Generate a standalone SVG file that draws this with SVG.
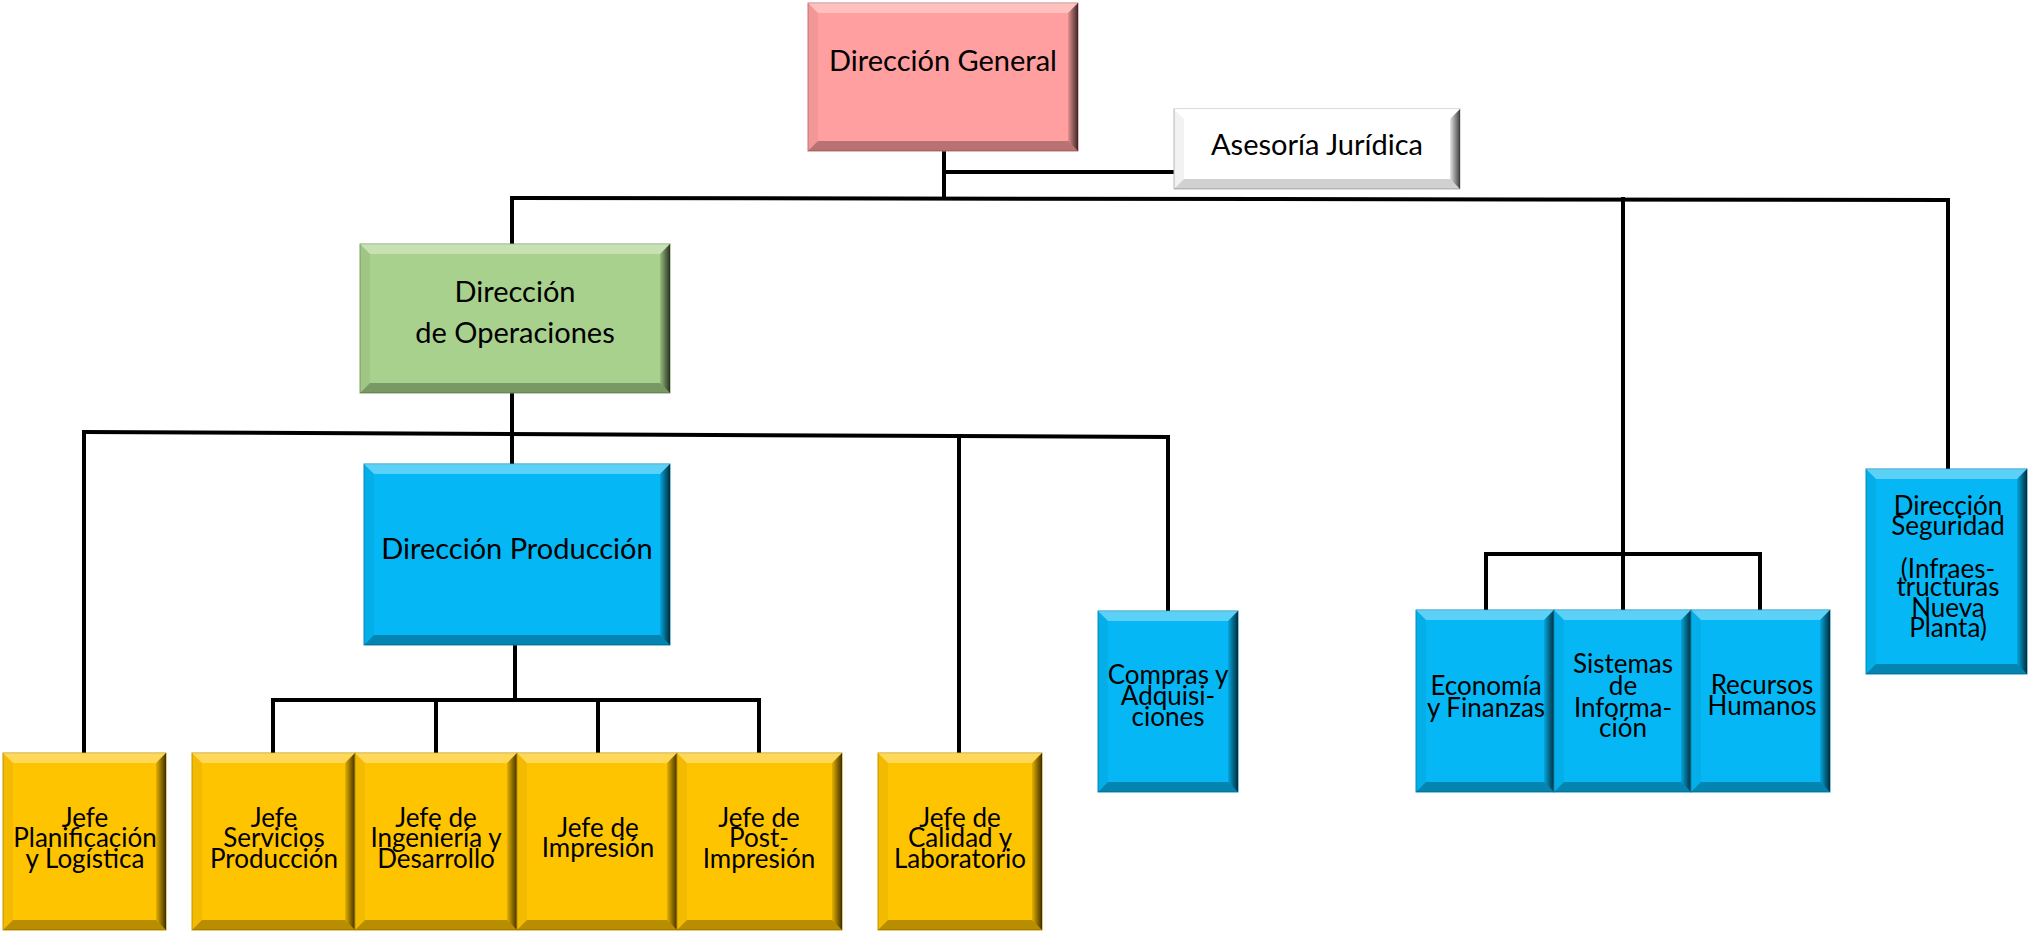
<svg xmlns="http://www.w3.org/2000/svg" width="2029" height="932" viewBox="0 0 2029 932">
<style>
.pink{fill:#FF9F9F;stroke:#C97878;stroke-width:1}
.white{fill:#FFFFFF;stroke:#BBBBBB;stroke-width:1}
.green{fill:#A9D18E;stroke:#7FA466;stroke-width:1}
.blue{fill:#05B8F5;stroke:#0A8DBD;stroke-width:1}
.yellow{fill:#FFC400;stroke:#C99A00;stroke-width:1}
.bt{fill:#FFFFFF;fill-opacity:0.35}
.bl{fill:#000000;fill-opacity:0.05}
.bb{fill:#000000;fill-opacity:0.28}
.br{fill:url(#gr)}
.wb .bt{fill-opacity:0.9}
.wb .bb{fill-opacity:0.18}
.t{font-family:Lato,"Open Sans",sans-serif;fill:#000;text-anchor:middle}
.big{font-size:29px}
.sm{font-size:26px}
.ln{stroke:#000;stroke-width:4;fill:none;stroke-linecap:square}
</style>
<defs>
<linearGradient id="gr" x1="0" y1="0" x2="1" y2="0">
<stop offset="0" stop-color="#000" stop-opacity="0.1"/>
<stop offset="1" stop-color="#000" stop-opacity="0.75"/>
</linearGradient>
</defs>
<rect width="2029" height="932" fill="#FFFFFF"/>

<g id="connectors">
<path class="ln" d="M944 151 V198"/>
<path class="ln" d="M944 172 H1174"/>
<path class="ln" d="M512 198 L1948 200"/>
<path class="ln" d="M512 198 V244"/>
<path class="ln" d="M1623 199 V610"/>
<path class="ln" d="M1948 200 V469"/>
<path class="ln" d="M512 393 V464"/>
<path class="ln" d="M84 432 L1168 437"/>
<path class="ln" d="M84 432 V753"/>
<path class="ln" d="M959 436 V753"/>
<path class="ln" d="M1168 437 V611"/>
<path class="ln" d="M515 645 V700"/>
<path class="ln" d="M273 700 H759"/>
<path class="ln" d="M273 700 V753"/>
<path class="ln" d="M436 700 V753"/>
<path class="ln" d="M598 700 V753"/>
<path class="ln" d="M759 700 V753"/>
<path class="ln" d="M1486 554 H1760"/>
<path class="ln" d="M1486 554 V610"/>
<path class="ln" d="M1760 554 V610"/>
</g>

<g id="n-direccion-general">
<rect class="pink" x="808" y="3" width="270" height="148"/>
<polygon class="bt" points="808,3 1078,3 1068,13 818,13"/>
<polygon class="bl" points="808,3 818,13 818,141 808,151"/>
<polygon class="bb" points="808,151 818,141 1068,141 1078,151"/>
<polygon class="br" points="1078,3 1078,151 1068,141 1068,13"/>
<text class="t big" x="943" y="71">Dirección General</text>
</g>

<g id="n-asesoria" class="wb">
<rect class="white" x="1174" y="109" width="286" height="80"/>
<polygon class="bt" points="1174,109 1460,109 1450,119 1184,119"/>
<polygon class="bl" points="1174,109 1184,119 1184,179 1174,189"/>
<polygon class="bb" points="1174,189 1184,179 1450,179 1460,189"/>
<polygon class="br" points="1460,109 1460,189 1450,179 1450,119"/>
<text class="t big" x="1317" y="155">Asesoría Jurídica</text>
</g>

<g id="n-operaciones">
<rect class="green" x="360" y="244" width="310" height="149"/>
<polygon class="bt" points="360,244 670,244 660,254 370,254"/>
<polygon class="bl" points="360,244 370,254 370,383 360,393"/>
<polygon class="bb" points="360,393 370,383 660,383 670,393"/>
<polygon class="br" points="670,244 670,393 660,383 660,254"/>
<text class="t big" x="515"><tspan x="515" y="302">Dirección</tspan><tspan x="515" y="343">de Operaciones</tspan></text>
</g>

<g id="n-produccion">
<rect class="blue" x="364" y="464" width="306" height="181"/>
<polygon class="bt" points="364,464 670,464 660,474 374,474"/>
<polygon class="bl" points="364,464 374,474 374,635 364,645"/>
<polygon class="bb" points="364,645 374,635 660,635 670,645"/>
<polygon class="br" points="670,464 670,645 660,635 660,474"/>
<text class="t big" x="517" y="559">Dirección Producción</text>
</g>

<g id="n-planificacion">
<rect class="yellow" x="3" y="753" width="163" height="177"/>
<polygon class="bt" points="3,753 166,753 156,763 13,763"/>
<polygon class="bl" points="3,753 13,763 13,920 3,930"/>
<polygon class="bb" points="3,930 13,920 156,920 166,930"/>
<polygon class="br" points="166,753 166,930 156,920 156,763"/>
<text class="t sm"><tspan x="85" y="827">Jefe</tspan><tspan x="85" y="847">Planificación</tspan><tspan x="85" y="868">y Logística</tspan></text>
</g>

<g id="n-servicios">
<rect class="yellow" x="192" y="753" width="163" height="177"/>
<polygon class="bt" points="192,753 355,753 345,763 202,763"/>
<polygon class="bl" points="192,753 202,763 202,920 192,930"/>
<polygon class="bb" points="192,930 202,920 345,920 355,930"/>
<polygon class="br" points="355,753 355,930 345,920 345,763"/>
<text class="t sm"><tspan x="274" y="827">Jefe</tspan><tspan x="274" y="847">Servicios</tspan><tspan x="274" y="868">Producción</tspan></text>
</g>

<g id="n-ingenieria">
<rect class="yellow" x="355" y="753" width="162" height="177"/>
<polygon class="bt" points="355,753 517,753 507,763 365,763"/>
<polygon class="bl" points="355,753 365,763 365,920 355,930"/>
<polygon class="bb" points="355,930 365,920 507,920 517,930"/>
<polygon class="br" points="517,753 517,930 507,920 507,763"/>
<text class="t sm"><tspan x="436" y="827">Jefe de</tspan><tspan x="436" y="847">Ingeniería y</tspan><tspan x="436" y="868">Desarrollo</tspan></text>
</g>

<g id="n-impresion">
<rect class="yellow" x="517" y="753" width="160" height="177"/>
<polygon class="bt" points="517,753 677,753 667,763 527,763"/>
<polygon class="bl" points="517,753 527,763 527,920 517,930"/>
<polygon class="bb" points="517,930 527,920 667,920 677,930"/>
<polygon class="br" points="677,753 677,930 667,920 667,763"/>
<text class="t sm"><tspan x="598" y="837">Jefe de</tspan><tspan x="598" y="857">Impresión</tspan></text>
</g>

<g id="n-postimpresion">
<rect class="yellow" x="677" y="753" width="165" height="177"/>
<polygon class="bt" points="677,753 842,753 832,763 687,763"/>
<polygon class="bl" points="677,753 687,763 687,920 677,930"/>
<polygon class="bb" points="677,930 687,920 832,920 842,930"/>
<polygon class="br" points="842,753 842,930 832,920 832,763"/>
<text class="t sm"><tspan x="759" y="827">Jefe de</tspan><tspan x="759" y="847">Post-</tspan><tspan x="759" y="868">Impresión</tspan></text>
</g>

<g id="n-calidad">
<rect class="yellow" x="878" y="753" width="164" height="177"/>
<polygon class="bt" points="878,753 1042,753 1032,763 888,763"/>
<polygon class="bl" points="878,753 888,763 888,920 878,930"/>
<polygon class="bb" points="878,930 888,920 1032,920 1042,930"/>
<polygon class="br" points="1042,753 1042,930 1032,920 1032,763"/>
<text class="t sm"><tspan x="960" y="827">Jefe de</tspan><tspan x="960" y="847">Calidad y</tspan><tspan x="960" y="868">Laboratorio</tspan></text>
</g>

<g id="n-compras">
<rect class="blue" x="1098" y="611" width="140" height="181"/>
<polygon class="bt" points="1098,611 1238,611 1228,621 1108,621"/>
<polygon class="bl" points="1098,611 1108,621 1108,782 1098,792"/>
<polygon class="bb" points="1098,792 1108,782 1228,782 1238,792"/>
<polygon class="br" points="1238,611 1238,792 1228,782 1228,621"/>
<text class="t sm"><tspan x="1168" y="684">Compras y</tspan><tspan x="1168" y="705">Adquisi-</tspan><tspan x="1168" y="726">ciones</tspan></text>
</g>

<g id="n-economia">
<rect class="blue" x="1416" y="610" width="138" height="182"/>
<polygon class="bt" points="1416,610 1554,610 1544,620 1426,620"/>
<polygon class="bl" points="1416,610 1426,620 1426,782 1416,792"/>
<polygon class="bb" points="1416,792 1426,782 1544,782 1554,792"/>
<polygon class="br" points="1554,610 1554,792 1544,782 1544,620"/>
<text class="t sm"><tspan x="1486" y="695">Economía</tspan><tspan x="1486" y="717">y Finanzas</tspan></text>
</g>

<g id="n-sistemas">
<rect class="blue" x="1554" y="610" width="137" height="182"/>
<polygon class="bt" points="1554,610 1691,610 1681,620 1564,620"/>
<polygon class="bl" points="1554,610 1564,620 1564,782 1554,792"/>
<polygon class="bb" points="1554,792 1564,782 1681,782 1691,792"/>
<polygon class="br" points="1691,610 1691,792 1681,782 1681,620"/>
<text class="t sm"><tspan x="1623" y="673">Sistemas</tspan><tspan x="1623" y="695">de</tspan><tspan x="1623" y="717">Informa-</tspan><tspan x="1623" y="737">ción</tspan></text>
</g>

<g id="n-recursos">
<rect class="blue" x="1691" y="610" width="139" height="182"/>
<polygon class="bt" points="1691,610 1830,610 1820,620 1701,620"/>
<polygon class="bl" points="1691,610 1701,620 1701,782 1691,792"/>
<polygon class="bb" points="1691,792 1701,782 1820,782 1830,792"/>
<polygon class="br" points="1830,610 1830,792 1820,782 1820,620"/>
<text class="t sm"><tspan x="1762" y="694">Recursos</tspan><tspan x="1762" y="715">Humanos</tspan></text>
</g>

<g id="n-seguridad">
<rect class="blue" x="1866" y="469" width="161" height="205"/>
<polygon class="bt" points="1866,469 2027,469 2017,479 1876,479"/>
<polygon class="bl" points="1866,469 1876,479 1876,664 1866,674"/>
<polygon class="bb" points="1866,674 1876,664 2017,664 2027,674"/>
<polygon class="br" points="2027,469 2027,674 2017,664 2017,479"/>
<text class="t sm"><tspan x="1948" y="515">Dirección</tspan><tspan x="1948" y="535">Seguridad</tspan><tspan x="1948" y="578">(Infraes-</tspan><tspan x="1948" y="596">tructuras</tspan><tspan x="1948" y="617">Nueva</tspan><tspan x="1948" y="637">Planta)</tspan></text>
</g>
</svg>
